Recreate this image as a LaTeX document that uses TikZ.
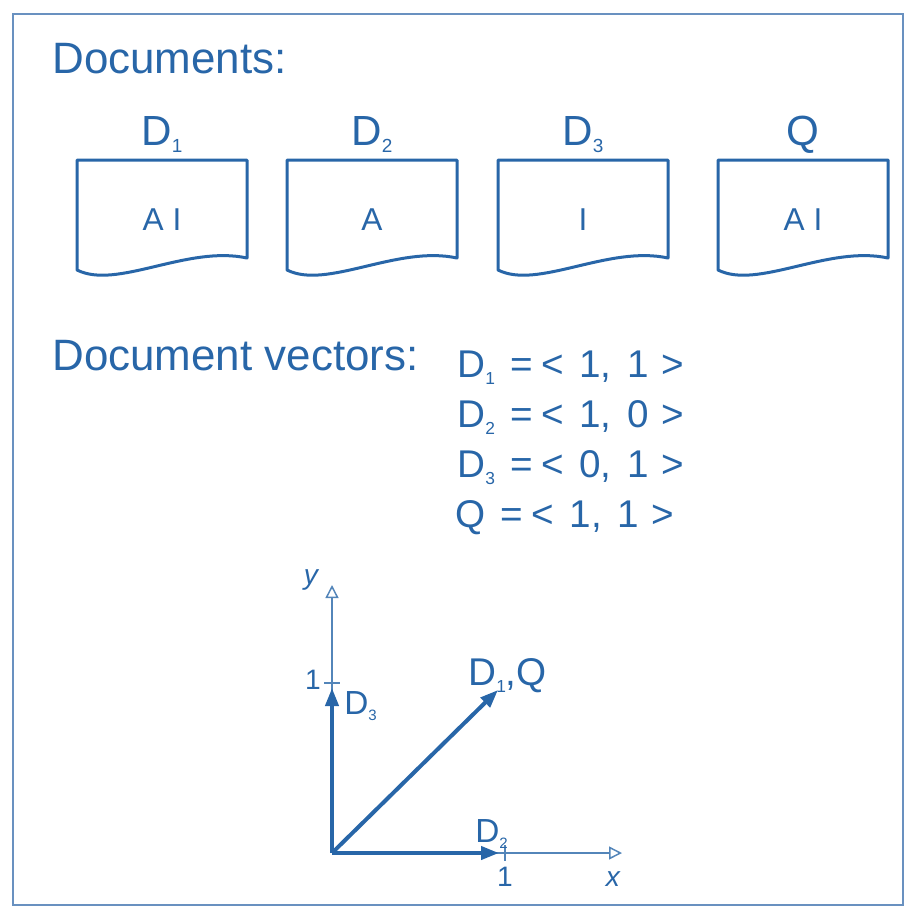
\documentclass[tikz,border=0pt]{standalone}
\usepackage{fontspec}
\setmainfont{Liberation Sans}
\usepackage{graphicx}
\usetikzlibrary{arrows.meta}
\definecolor{docblue}{RGB}{40,102,168}
\definecolor{framecol}{RGB}{105,145,192}
% small lowered index as in the printed figure
\newcommand{\sbs}[1]{\raisebox{-0.35ex}{\scalebox{0.45}{#1}}}
% one line of the vector list, with the wide spacing of the figure
\newcommand{\vecrow}[3]{#1\hspace{0.4em}=\hspace{0.22em}<\hspace{0.4em}#2,\hspace{0.4em}#3\hspace{0.32em}>}
\tikzset{
    heading/.style={anchor=base west, inner sep=0pt, text=docblue, font=\fontsize{25}{30}\selectfont},
    doclabel/.style={anchor=base, inner sep=0pt, text=docblue, font=\fontsize{24}{28}\selectfont},
    doctext/.style={anchor=base, inner sep=0pt, text=docblue, font=\fontsize{18}{21}\selectfont},
    docline/.style={docblue, line width=0.6mm, line join=round},
    eqtext/.style={anchor=base west, inner sep=0pt, text=docblue, font=\fontsize{22}{26}\selectfont},
    axis/.style={docblue!80, line width=0.3mm},
    axisarrow/.style={axis, -{Triangle[open, length=2.6mm, width=2.6mm]}},
    vec/.style={docblue, line width=0.8mm, -{Triangle[length=3.6mm, width=2.6mm]}},
    axlabel/.style={inner sep=0pt, text=docblue, font=\fontsize{16}{19}\selectfont},
    veclabel/.style={inner sep=0pt, text=docblue, font=\fontsize{19}{22}\selectfont}
}
\begin{document}
\begin{tikzpicture}[x=0.02cm, y=-0.02cm]
    \useasboundingbox (0,0) rectangle (910,907);

    % Frame
    \draw[framecol, line width=0.4mm] (13,14) rectangle (903,905);

    % Headings
    \node[heading] (docs) at (52,73) {Documents:};
    \node[heading] (vecs) at (52,370) {Document vectors:};

    % Document sheets with wavy bottom edge
    \foreach \i/\L/\lab/\txt in {1/77/{D\sbs{1}}/{A I}, 2/287/{D\sbs{2}}/{A}, 3/498/{D\sbs{3}}/{I}, 4/718/{Q}/{A I}}{
        \draw[docline] (\L,160) -- ({\L+170},160) -- ({\L+170},258)
            .. controls ({\L+110},245) and ({\L+40},290) .. (\L,270) -- cycle;
        \node[doclabel] (lab\i) at ({\L+85},145) {\lab};
        \node[doctext] (txt\i) at ({\L+85},230) {\txt};
    }

    % Vector values
    \node[eqtext] (eq1) at (457,377) {\vecrow{D\sbs{1}}{1}{1}};
    \node[eqtext] (eq2) at (457,427) {\vecrow{D\sbs{2}}{1}{0}};
    \node[eqtext] (eq3) at (457,477) {\vecrow{D\sbs{3}}{0}{1}};
    \node[eqtext] (eq4) at (455,527) {\vecrow{Q}{1}{1}};

    % Axes
    \coordinate (O) at (332,853);
    \coordinate (xend) at (622,853);
    \coordinate (yend) at (332,585);
    \coordinate (x1) at (505,853);
    \coordinate (y1) at (332,683);
    \draw[axisarrow] (O) -- (xend);
    \draw[axisarrow] (O) -- (yend);
    \draw[axis] ([yshift=4.5pt]x1) -- ([yshift=-4.5pt]x1);
    \draw[axis] ([xshift=-4.5pt]y1) -- ([xshift=4.5pt]y1);
    \node[axlabel, anchor=north] (x1lab) at (505,867) {1};
    \node[axlabel, anchor=east] (y1lab) at (321,680) {1};
    \node[axlabel] (xlab) at (613,879) {\itshape x};
    \node[axlabel] (ylab) at (311,580) {\itshape y};

    % Vectors
    \coordinate (d2tip) at (499,853);
    \coordinate (d3tip) at (332,688);
    \coordinate (d1tip) at (498,690);
    \draw[vec] (O) -- (d2tip);
    \draw[vec] (O) -- (d3tip);
    \draw[vec] (O) -- (d1tip);
    \node[veclabel, anchor=base west] (d1lab) at (468,685) {\fontsize{22}{26}\selectfont D\sbs{1},Q};
    \node[veclabel, anchor=base west] (d3lab) at (344,714) {D\sbs{3}};
    \node[veclabel, anchor=base west] (d2lab) at (475,842) {D\sbs{2}};
\end{tikzpicture}
\end{document}
